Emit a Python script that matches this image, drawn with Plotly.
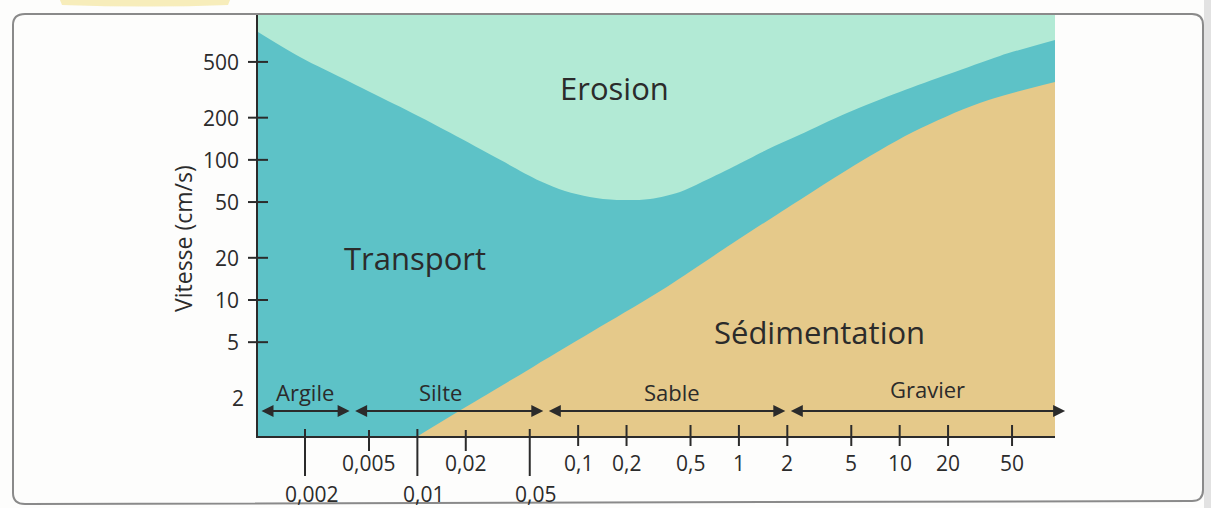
import numpy as np
import plotly.graph_objects as go

# ---------------- data ----------------
# Erosion / transport boundary: grain size (mm) -> velocity (cm/s)
grain_erosion = [0.00102, 0.00186, 0.00381, 0.0078, 0.016, 0.0327, 0.0578, 0.0828, 0.118, 0.174,
                 0.28, 0.43, 0.573, 0.918, 1.49, 2.39, 4.70, 10.0, 20.5, 42.0, 92.5]
v_erosion = [819, 543, 360, 239, 156, 100, 70.7, 60.0, 54.4, 51.8,
             52.6, 59.0, 68.4, 89, 118, 151, 216, 305, 411, 552, 718]

# Transport / sedimentation boundary
grain_sed = [0.0101, 0.02, 0.0524, 0.137, 0.356, 0.918, 2.39, 4.70, 12.1, 31.5, 92.5]
v_sed = [1.07, 1.72, 3.33, 6.43, 12.4, 25.5, 51.8, 84.7, 158, 255, 360]

y_tick_vals = [2, 5, 10, 20, 50, 100, 200, 500]
y_tick_marked = [5, 10, 20, 50, 100, 200, 500]
x_ticks_row1 = [0.005, 0.02, 0.1, 0.2, 0.5, 1, 2, 5, 10, 20, 50]
x_ticks_row2 = [0.002, 0.01, 0.05]
x_ticks_medium = [0.005, 0.02]
classes = ["Argile", "Silte", "Sable", "Gravier"]
class_bounds = [0.00102, 0.0039, 0.0625, 2, 110]

# ---------------- styling ----------------
W, H = 1211, 508
ML, MR, MT, MB = 258, 156, 15, 72
PW, PH = W - ML - MR, H - MT - MB
MINT = "rgb(178,234,213)"
TEAL = "rgb(93,194,199)"
SAND = "rgb(229,201,138)"
INK = "#2b2b2b"
FONT = "Open Sans"
class_label_shift = [0, -8, 6, 0]

x_min, x_max = min(grain_erosion), max(grain_erosion)
y_min, y_max = 1.07, 1081
L0, L1 = np.log10(x_min), np.log10(x_max)


def fx(v):  # paper fraction of a grain size
    return (np.log10(v) - L0) / (L1 - L0)


def px(p):  # pixel x -> paper
    return (p - ML) / PW


def py(p):  # pixel y -> paper
    return ((H - MB) - p) / PH


def fmt(v):
    return str(v).replace(".", ",")


fig = go.Figure()
base = y_min * 0.5
# transport band (everything under the erosion curve)
fig.add_trace(go.Scatter(x=[x_min, x_max], y=[base, base], mode="lines",
                         line=dict(width=0), hoverinfo="skip", showlegend=False))
fig.add_trace(go.Scatter(x=grain_erosion, y=v_erosion, mode="lines", fill="tonexty",
                         fillcolor=TEAL, line=dict(width=0, shape="spline", smoothing=0.9),
                         hoverinfo="skip", showlegend=False))
# sedimentation
fig.add_trace(go.Scatter(x=[grain_sed[0], x_max], y=[base, base], mode="lines",
                         line=dict(width=0), hoverinfo="skip", showlegend=False))
fig.add_trace(go.Scatter(x=grain_sed, y=v_sed, mode="lines", fill="tonexty",
                         fillcolor=SAND, line=dict(width=0, shape="spline", smoothing=0.9),
                         hoverinfo="skip", showlegend=False))

shapes = []
# page frame (scan)
shapes.append(dict(type="path", xref="paper", yref="paper", layer="above",
                   path=(f"M {px(25)},{py(14)} L {px(1192)},{py(14)} Q {px(1203)},{py(14)} {px(1203)},{py(25)} "
                         f"L {px(1203)},{py(490)} Q {px(1203)},{py(501)} {px(1192)},{py(501)} "
                         f"L {px(25)},{py(504)} Q {px(13)},{py(504)} {px(13)},{py(493)} "
                         f"L {px(13)},{py(25)} Q {px(13)},{py(14)} {px(25)},{py(14)} Z"),
                   line=dict(color="#8a8a8a", width=2)))
shapes.append(dict(type="rect", xref="paper", yref="paper", x0=px(1204), x1=px(1215), y0=py(0), y1=py(508),
                   fillcolor="rgba(200,200,200,0.5)", line=dict(width=0), layer="below"))
shapes.append(dict(type="path", xref="paper", yref="paper",
                   path=f"M {px(60)},{py(0)} L {px(230)},{py(0)} L {px(228)},{py(5)} Q {px(150)},{py(8)} {px(62)},{py(5)} Z",
                   fillcolor="rgba(243,230,160,0.7)", line=dict(width=0)))
# y tick marks crossing the axis
for v in y_tick_marked:
    shapes.append(dict(type="line", xref="paper", yref="y", x0=-10 / PW, x1=10 / PW, y0=v, y1=v,
                       line=dict(color=INK, width=2)))
# x tick marks
for v in x_ticks_row1 + x_ticks_row2:
    if v in x_ticks_row2:
        y0, y1 = py(476), py(429)
    elif v in x_ticks_medium:
        y0, y1 = py(451), py(430)
    else:
        y0, y1 = py(446), py(425)
    shapes.append(dict(type="line", xref="x", yref="paper", x0=v, x1=v, y0=y0, y1=y1,
                       line=dict(color=INK, width=2)))

ann = []
for v in y_tick_vals:
    ann.append(dict(x=0, xref="paper", y=np.log10(v), yref="y", text=fmt(v), showarrow=False,
                    xanchor="right", yanchor="middle", xshift=-17 if v != 2 else -12,
                    font=dict(family=FONT, size=21, color=INK)))
for v in x_ticks_row1:
    ann.append(dict(x=np.log10(v), xref="x", y=py(463), yref="paper", text=fmt(v), showarrow=False,
                    xanchor="center", yanchor="middle", font=dict(family=FONT, size=21, color=INK)))
for v in x_ticks_row2:
    ann.append(dict(x=np.log10(v), xref="x", y=py(494), yref="paper", text=fmt(v), showarrow=False,
                    xanchor="center", yanchor="middle", xshift=6,
                    font=dict(family=FONT, size=21, color=INK)))

# class arrows and names
for i, name in enumerate(classes):
    a, b = class_bounds[i], class_bounds[i + 1]
    ann.append(dict(x=fx(b), xref="paper", y=py(411), yref="paper",
                    ax=-(fx(b) - fx(a)) * PW, axref="pixel", ay=0, ayref="pixel",
                    text="", showarrow=True, arrowhead=2, arrowside="end+start",
                    arrowsize=1.2, arrowwidth=2, arrowcolor=INK, standoff=2, startstandoff=2))
    ann.append(dict(x=np.log10(np.sqrt(a * b)), xref="x", y=py(392 if name != "Gravier" else 389),
                    yref="paper", text=name, showarrow=False, xanchor="center", yanchor="middle",
                    xshift=class_label_shift[i], font=dict(family=FONT, size=22, color=INK)))

# region names
ann.append(dict(x=np.log10(0.169), y=np.log10(326), xref="x", yref="y", text="Erosion", showarrow=False,
                font=dict(family=FONT, size=31, color=INK)))
ann.append(dict(x=np.log10(0.0097), y=np.log10(20), xref="x", yref="y", text="Transport", showarrow=False,
                font=dict(family=FONT, size=31, color=INK)))
ann.append(dict(x=np.log10(3.19), y=np.log10(5.9), xref="x", yref="y", text="Sédimentation", showarrow=False,
                font=dict(family=FONT, size=31, color=INK)))
# axis title
ann.append(dict(x=px(183), y=py(239), xref="paper", yref="paper", text="Vitesse (cm/s)", showarrow=False,
                textangle=-90, xanchor="center", yanchor="middle",
                font=dict(family=FONT, size=23, color=INK)))

fig.update_layout(
    width=W, height=H, margin=dict(l=ML, r=MR, t=MT, b=MB, pad=0),
    paper_bgcolor="#fdfdfc", plot_bgcolor=MINT,
    shapes=shapes, annotations=ann, showlegend=False,
    xaxis=dict(type="log", range=[L0, L1], showgrid=False, zeroline=False, showticklabels=False,
               ticks="", showline=True, linecolor=INK, linewidth=2, fixedrange=True),
    yaxis=dict(type="log", range=[np.log10(y_min), np.log10(y_max)], showgrid=False, zeroline=False,
               showticklabels=False, ticks="", showline=True, linecolor=INK, linewidth=2, fixedrange=True),
)

fig.write_html("out.html", config={"displayModeBar": False},
               post_script="document.body.style.margin='0';document.body.style.overflow='hidden';")
